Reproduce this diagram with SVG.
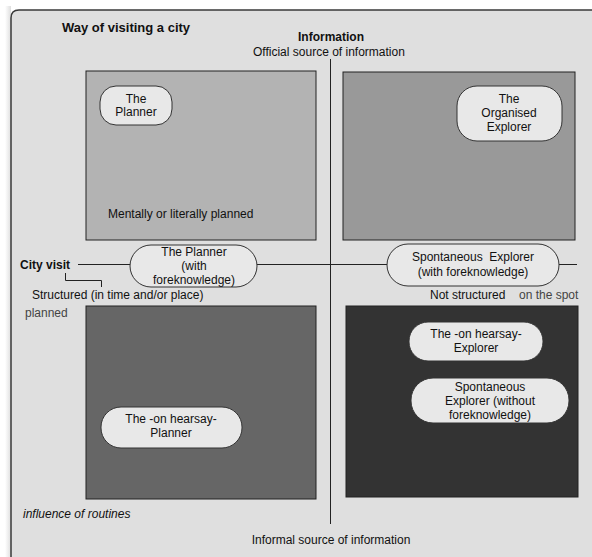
<svg xmlns="http://www.w3.org/2000/svg" width="592" height="557" viewBox="0 0 592 557">
  <style>
    text { font-family: "Liberation Sans", Arial, sans-serif; font-size: 12px; fill: #111; }
    .b { font-weight: bold; }
    .c { text-anchor: middle; }
    .g { fill: #444; }
    .i { font-style: italic; }
    .quad { stroke: #222; stroke-width: 1; }
    .pill { fill: #e8e8e8; stroke: #333; stroke-width: 1; }
    .ln { stroke: #222; stroke-width: 1; fill: none; }
  </style>
  <defs>
    <linearGradient id="edge" x1="0" y1="0" x2="1" y2="0">
      <stop offset="0" stop-color="#ffffff"/>
      <stop offset="1" stop-color="#c8c8c8"/>
    </linearGradient>
  </defs>

  <!-- page background and frame -->
  <rect x="0" y="0" width="592" height="557" fill="#ffffff"/>
  <rect x="5" y="6" width="6" height="551" fill="url(#edge)" opacity="0.6"/>
  <rect x="11" y="10" width="600" height="600" rx="8" fill="#dfdfdf"/>
  <path d="M11,600 V18 Q11,10 19,10 H600" fill="none" stroke="#3a3a3a" stroke-width="1.5"/>

  <!-- quadrants -->
  <g id="quadrant-top-left">
    <rect class="quad" x="86" y="71" width="230" height="169" fill="#b3b3b3"/>
    <text x="108" y="218">Mentally or literally planned</text>
  </g>
  <g id="quadrant-top-right">
    <rect class="quad" x="343" y="72" width="232" height="168" fill="#999999"/>
  </g>
  <g id="quadrant-bottom-left">
    <rect class="quad" x="86" y="306" width="230" height="193" fill="#666666"/>
  </g>
  <g id="quadrant-bottom-right">
    <rect class="quad" x="346" y="306" width="232" height="191" fill="#333333"/>
  </g>

  <!-- axes and connectors -->
  <g id="connectors">
    <line class="ln" x1="330.5" y1="59" x2="330.5" y2="524"/>
    <line class="ln" x1="78" y1="264.5" x2="130" y2="264.5"/>
    <line class="ln" x1="257" y1="264.5" x2="387" y2="264.5"/>
    <line class="ln" x1="559" y1="264.5" x2="577" y2="264.5"/>
    <polyline class="ln" points="65.5,273 65.5,280.5 101.5,280.5 101.5,287"/>
  </g>

  <!-- axis labels -->
  <g id="labels">
    <text class="b" x="62" y="32" style="font-size:13px">Way of visiting a city</text>
    <text class="b" x="298" y="41">Information</text>
    <text x="253" y="56">Official source of information</text>
    <text class="b" x="20" y="269">City visit</text>
    <text x="32" y="299">Structured (in time and/or place)</text>
    <text class="g" x="25" y="317">planned</text>
    <text x="430" y="299">Not structured</text>
    <text class="g" x="519" y="299">on the spot</text>
    <text class="i" x="23" y="518">influence of routines</text>
    <text class="c" x="331" y="544">Informal source of information</text>
  </g>

  <!-- types of visitor -->
  <g id="the-planner">
    <rect class="pill" x="100" y="86" width="72" height="39" rx="16"/>
    <text class="c" x="136" y="103">The</text>
    <text class="c" x="136" y="116">Planner</text>
  </g>
  <g id="the-organised-explorer">
    <rect class="pill" x="457" y="86" width="105" height="55" rx="20"/>
    <text class="c" x="509" y="103">The</text>
    <text class="c" x="509" y="117">Organised</text>
    <text class="c" x="509" y="131">Explorer</text>
  </g>
  <g id="planner-with-foreknowledge">
    <rect class="pill" x="130" y="245" width="127" height="42" rx="21"/>
    <text class="c" x="194" y="256">The Planner</text>
    <text class="c" x="194" y="270">(with</text>
    <text class="c" x="194" y="284">foreknowledge)</text>
  </g>
  <g id="spontaneous-explorer-with-foreknowledge">
    <rect class="pill" x="387" y="244" width="172" height="42" rx="21"/>
    <text class="c" x="473" y="261">Spontaneous&#160; Explorer</text>
    <text class="c" x="473" y="276">(with foreknowledge)</text>
  </g>
  <g id="on-hearsay-explorer">
    <rect class="pill" x="409" y="322" width="134" height="39" rx="19"/>
    <text class="c" x="476" y="338">The -on hearsay-</text>
    <text class="c" x="476" y="352">Explorer</text>
  </g>
  <g id="spontaneous-explorer-without-foreknowledge">
    <rect class="pill" x="411" y="378" width="158" height="45" rx="22"/>
    <text class="c" x="490" y="391">Spontaneous</text>
    <text class="c" x="490" y="405">Explorer (without</text>
    <text class="c" x="490" y="419">foreknowledge)</text>
  </g>
  <g id="on-hearsay-planner">
    <rect class="pill" x="101" y="407" width="141" height="41" rx="20"/>
    <text class="c" x="171" y="423">The -on hearsay-</text>
    <text class="c" x="171" y="437">Planner</text>
  </g>
</svg>
